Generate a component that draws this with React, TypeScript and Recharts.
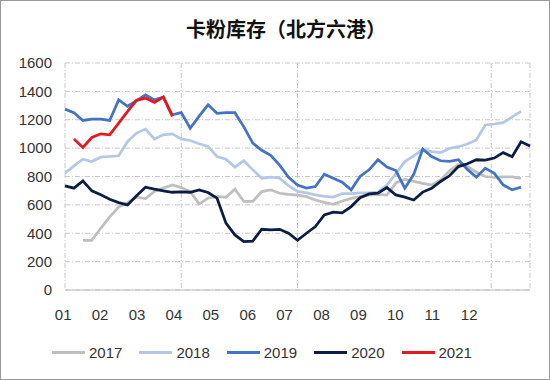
import { LineChart, Line, XAxis, YAxis, CartesianGrid, Legend } from 'recharts';

// weekly inventory (10k t), index 0 = first week of Jan
const monthLabels = ['01', '02', '03', '04', '05', '06', '07', '08', '09', '10', '11', '12'];
const yTicks = [0, 200, 400, 600, 800, 1000, 1200, 1400, 1600];

const s2017 = [
  null, null, 350, 350, 435, 515, 585, 615, 655, 645, 695, 718, 740,
  722, 694, 607, 647, 659, 654, 711, 624, 624, 694, 706, 682, 674,
  669, 658, 634, 618, 604, 627, 646, 658, 669, 674, 669, 755, 780,
  765, 752, 740, 775, 840, 885, 870, 830, 800, 793, 798, 798, 786,
];
const s2018 = [
  824, 875, 922, 906, 936, 941, 946, 1047, 1106, 1134, 1064, 1094, 1101,
  1065, 1054, 1031, 1012, 941, 922, 866, 913, 847, 788, 795, 788, 735,
  695, 685, 670, 660, 655, 680, 680, 685, 685, 690, 740, 820, 905,
  945, 990, 975, 968, 998, 1010, 1029, 1057, 1163, 1170, 1180, 1220, 1259,
];
const s2019 = [
  1275, 1250, 1195, 1205, 1205, 1195, 1340, 1295, 1335, 1375, 1340, 1360, 1235,
  1250, 1140, 1225, 1305, 1245, 1250, 1250, 1150, 1035, 985, 950, 880, 795,
  740, 718, 729, 816, 788, 760, 706, 800, 847, 918, 866, 842, 718,
  815, 993, 941, 911, 906, 918, 850, 795, 859, 823, 741, 706, 725,
];
const s2020 = [
  734, 718, 769, 699, 671, 640, 616, 600, 664, 725, 711, 699, 689,
  692, 689, 706, 687, 647, 471, 388, 341, 345, 428, 424, 428, 400,
  350, 400, 447, 529, 548, 543, 588, 650, 677, 682, 722, 670, 655,
  634, 690, 717, 765, 805, 870, 890, 918, 916, 930, 968, 940, 1045, 1015,
];
const s2021 = [null, 1064, 1005, 1075, 1101, 1094, 1176, 1259, 1337, 1353, 1322, 1360, 1224];

const seriesList = [
  { key: '2017', color: '#BFBFBF', values: s2017 },
  { key: '2018', color: '#B4C7E7', values: s2018 },
  { key: '2019', color: '#4472C4', values: s2019 },
  { key: '2020', color: '#0C1D45', values: s2020 },
  { key: '2021', color: '#E3191F', values: s2021 },
];

const weeksPerYear = 52;
// gridlines every month, labels sit on a slightly tighter pitch (as in the excel original)
const monthTicks = monthLabels.map((_, k) => (k * weeksPerYear) / 12);
const labelPitch = weeksPerYear / 12.6;
const labelTicks = monthLabels.map((_, k) => k * labelPitch - 0.2);

const chartData = s2020.map((_, i) => {
  const row: Record<string, number | null> = { week: i };
  seriesList.forEach(s => {
    row[s.key] = s.values[i] ?? null;
  });
  return row;
});

const font = '"Liberation Sans", Arial, sans-serif';

function LegendBox() {
  return (
    <div style={{ height: 20, display: 'flex', alignItems: 'center', paddingLeft: 52, fontFamily: font, fontSize: 15, color: '#333' }}>
      {seriesList.map(s => (
        <div key={s.key} style={{ display: 'flex', alignItems: 'center', marginRight: 17 }}>
          <span style={{ display: 'inline-block', width: 33, height: 3, background: s.color, marginRight: 4 }} />
          <span>{s.key}</span>
        </div>
      ))}
    </div>
  );
}

export default function App() {
  return (
    <div style={{ position: 'absolute', left: 0, top: 0, width: 550, height: 380, background: '#fff' }}>
      <div
        style={{
          position: 'absolute', left: 0, top: 19, width: 572, textAlign: 'center',
          fontFamily: '"Noto Sans CJK SC", sans-serif', fontSize: 20, lineHeight: '20px', color: '#111', fontWeight: 'bold',
        }}
      >
        卡粉库存（北方六港）
      </div>
      <LineChart
        width={550}
        height={380}
        data={chartData}
        margin={{ top: 63, right: 20, left: 10, bottom: 18 }}
      >
        <CartesianGrid xAxisId="main" stroke="#C8C8C8" strokeDasharray="5 2 1 2" />
        <XAxis xAxisId="main" dataKey="week" type="number" domain={[0, weeksPerYear]} ticks={monthTicks} hide />
        <XAxis
          xAxisId="lbl"
          dataKey="week"
          type="number"
          domain={[0, weeksPerYear]}
          ticks={labelTicks}
          interval={0}
          tickFormatter={(v: number) => monthLabels[Math.round((v + 0.2) / labelPitch)] ?? ''}
          allowDataOverflow
          height={52}
          tickSize={0}
          tickMargin={19}
          axisLine={{ stroke: '#BFBFBF' }}
          tickLine={false}
          tick={{ fill: '#333', fontSize: 15, fontFamily: font }}
        />
        <YAxis
          domain={[0, 1600]}
          ticks={yTicks}
          width={55}
          tickSize={0}
          tickMargin={13}
          axisLine={false}
          tickLine={false}
          tick={{ fill: '#333', fontSize: 15, fontFamily: font }}
        />
        <Legend verticalAlign="bottom" content={() => <LegendBox />} wrapperStyle={{ left: 0, width: 550 }} />
        {seriesList.map(s => (
          <Line
            key={s.key}
            xAxisId="main"
            type="linear"
            dataKey={s.key}
            stroke={s.color}
            strokeWidth={2.75}
            dot={false}
            activeDot={false}
            isAnimationActive={false}
          />
        ))}
      </LineChart>
      <div style={{ position: 'absolute', left: 0, top: 0, width: 550, height: 380, boxSizing: 'border-box', border: '1px solid #999', pointerEvents: 'none' }} />
    </div>
  );
}
